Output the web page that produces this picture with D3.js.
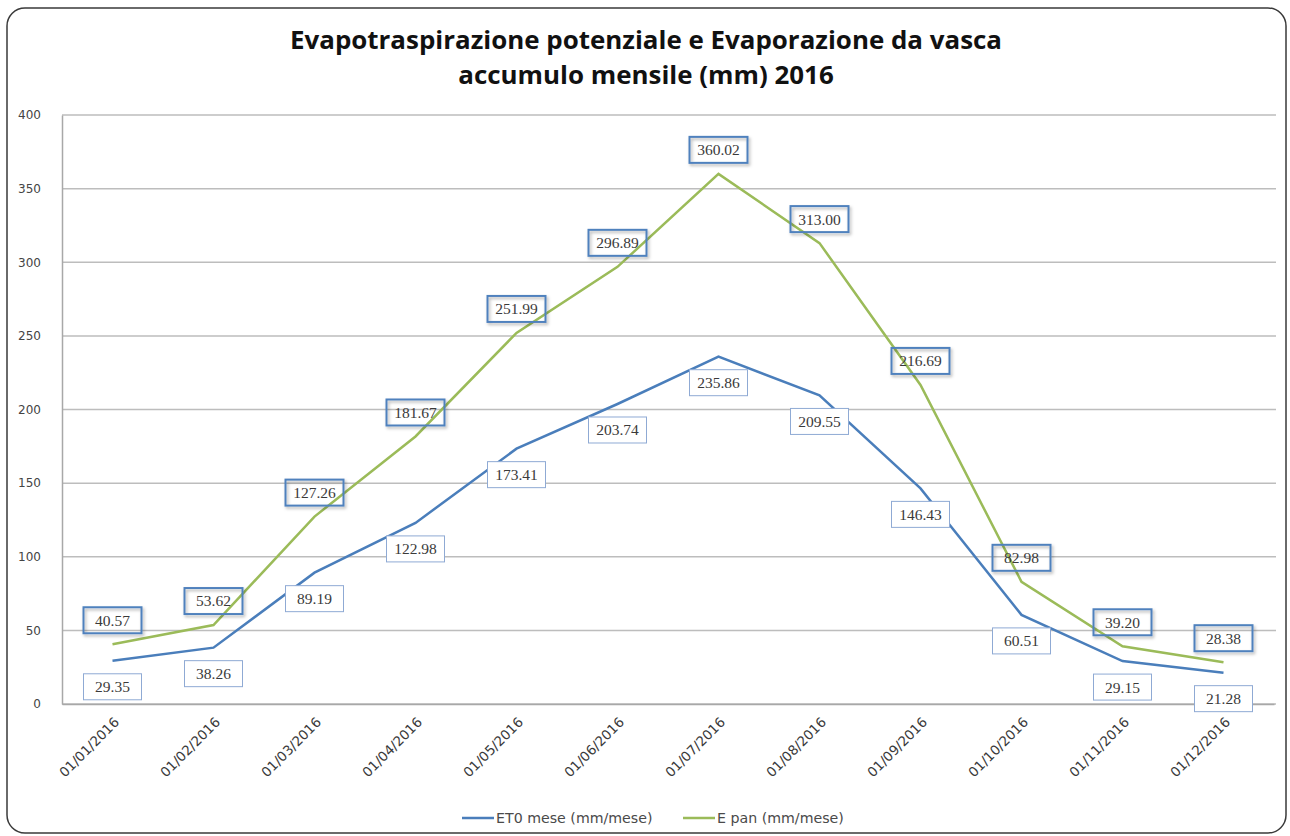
<!DOCTYPE html>
<html>
<head>
<meta charset="utf-8">
<script src="https://cdn.jsdelivr.net/npm/d3@7"></script>
<style>
  body { margin: 0; background: #fff; }
  svg { display: block; }
</style>
</head>
<body>
<div id="chart"></div>
<script>
// monthly accumulations 2016 (mm)
const months = ["01/01/2016", "01/02/2016", "01/03/2016", "01/04/2016", "01/05/2016", "01/06/2016",
  "01/07/2016", "01/08/2016", "01/09/2016", "01/10/2016", "01/11/2016", "01/12/2016"];
const et0 = [29.35, 38.26, 89.19, 122.98, 173.41, 203.74, 235.86, 209.55, 146.43, 60.51, 29.15, 21.28];
const epan = [40.57, 53.62, 127.26, 181.67, 251.99, 296.89, 360.02, 313.00, 216.69, 82.98, 39.20, 28.38];
const yTicks = [0, 50, 100, 150, 200, 250, 300, 350, 400];
const titleLines = ["Evapotraspirazione potenziale e Evaporazione da vasca", "accumulo mensile (mm) 2016"];
const seriesNames = ["ET0 mese (mm/mese)", "E pan (mm/mese)"];

const width = 1290, height = 836;
const margin = { top: 115, right: 16, bottom: 132, left: 62 };

const svg = d3.select("#chart").append("svg")
  .attr("width", width)
  .attr("height", height);

const defs = svg.append("defs");
const shadow = defs.append("filter").attr("id", "shadow")
  .attr("x", "-20%").attr("y", "-20%").attr("width", "150%").attr("height", "160%");
shadow.append("feDropShadow")
  .attr("dx", 1.5).attr("dy", 2).attr("stdDeviation", 1.5)
  .attr("flood-color", "#000").attr("flood-opacity", 0.3);

// outer frame
svg.append("rect")
  .attr("x", 7).attr("y", 8)
  .attr("width", 1279).attr("height", 825)
  .attr("rx", 18).attr("ry", 18)
  .attr("fill", "#fff")
  .attr("stroke", "#3a3a3a")
  .attr("stroke-width", 1.5);

// title
const title = svg.append("g").attr("font-family", "Open Sans, sans-serif")
  .attr("font-weight", "bold").attr("fill", "#111").attr("text-anchor", "middle");
const t1 = title.append("text").attr("x", 646).attr("y", 49).attr("font-size", 25).text(titleLines[0]);
const t2 = title.append("text").attr("x", 646).attr("y", 84).attr("font-size", 25).text(titleLines[1]);
// squeeze to the width of the original (narrow) font
const w1 = t1.node().getComputedTextLength();
t1.attr("textLength", 712).attr("lengthAdjust", "spacingAndGlyphs");
const w2 = t2.node().getComputedTextLength();
t2.attr("textLength", w2 * 712 / w1).attr("lengthAdjust", "spacingAndGlyphs");

const x = d3.scalePoint()
  .domain(months)
  .range([margin.left, width - margin.right])
  .padding(0.5);

const y = d3.scaleLinear()
  .domain([0, 400])
  .range([height - margin.bottom, margin.top]);

// gridlines
svg.append("g")
  .selectAll("line")
  .data(yTicks)
  .join("line")
  .attr("x1", margin.left).attr("x2", width - margin.right + 2)
  .attr("y1", d => y(d)).attr("y2", d => y(d))
  .attr("stroke", "#bdbdbd")
  .attr("stroke-width", 1.5);

// y axis
const yAxis = svg.append("g")
  .attr("transform", `translate(${margin.left},0)`)
  .call(d3.axisLeft(y).tickValues(yTicks).tickSize(0).tickPadding(21));
yAxis.select(".domain").attr("stroke", "#a8a8a8").attr("stroke-width", 1.5);
yAxis.selectAll("text").attr("font-family", "DejaVu Sans, sans-serif")
  .attr("font-size", 12).attr("fill", "#444");

// x axis
const xAxis = svg.append("g")
  .attr("transform", `translate(0,${y(0)})`)
  .call(d3.axisBottom(x).tickSize(0).tickPadding(0));
xAxis.select(".domain").attr("stroke", "#a8a8a8").attr("stroke-width", 1.5);
xAxis.selectAll("text")
  .attr("font-family", "DejaVu Sans, sans-serif")
  .attr("font-size", 13.5)
  .attr("fill", "#3a3a3a")
  .attr("text-anchor", "end")
  .attr("dy", 0)
  .attr("transform", "translate(7,19) rotate(-45)");

const line = d3.line()
  .x((d, i) => x(months[i]))
  .y(d => y(d));

svg.append("path")
  .datum(et0)
  .attr("fill", "none")
  .attr("stroke", "#4a7ebb")
  .attr("stroke-width", 2.5)
  .attr("d", line);

svg.append("path")
  .datum(epan)
  .attr("fill", "none")
  .attr("stroke", "#9bbb59")
  .attr("stroke-width", 2.5)
  .attr("d", line);

// data labels
function labels(values, dy, opts) {
  const g = svg.append("g")
    .selectAll("g")
    .data(values)
    .join("g")
    .attr("transform", (d, i) => `translate(${x(months[i])},${y(d) + dy})`);
  g.append("rect")
    .attr("x", -29).attr("y", -13)
    .attr("width", 58).attr("height", 26)
    .attr("fill", opts.fill)
    .attr("stroke", opts.stroke)
    .attr("stroke-width", opts.strokeWidth)
    .attr("filter", opts.shadow ? "url(#shadow)" : null);
  g.append("text")
    .attr("text-anchor", "middle")
    .attr("dy", "0.35em")
    .attr("font-family", "Liberation Serif, serif")
    .attr("font-size", 15.5)
    .attr("fill", "#3a3a3a")
    .text(d => d.toFixed(2));
}

labels(et0, 26, { fill: "#fff", stroke: "#8faad4", strokeWidth: 1, shadow: false });
labels(epan, -24, { fill: "none", stroke: "#4f81bd", strokeWidth: 2, shadow: true });

// legend
const legend = svg.append("g").attr("transform", `translate(0,818)`);
const legendItems = [
  { name: seriesNames[0], color: "#4a7ebb", x: 462 },
  { name: seriesNames[1], color: "#9bbb59", x: 683 }
];
legendItems.forEach(it => {
  legend.append("line")
    .attr("x1", it.x).attr("x2", it.x + 32)
    .attr("stroke", it.color).attr("stroke-width", 2.5);
  legend.append("text")
    .attr("x", it.x + 34).attr("dy", "0.35em")
    .attr("font-family", "DejaVu Sans, sans-serif")
    .attr("font-size", 14.2)
    .attr("fill", "#4a4a4a")
    .text(it.name);
});
</script>
</body>
</html>
